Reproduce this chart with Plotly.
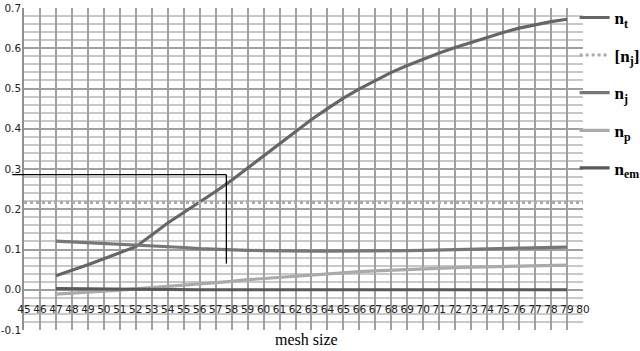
import plotly.graph_objects as go

mesh = list(range(47, 80))
n_t = [0.035, 0.048, 0.062, 0.077, 0.091, 0.107, 0.136, 0.166, 0.192, 0.217,
       0.244, 0.272, 0.302, 0.333, 0.363, 0.393, 0.423, 0.450, 0.476, 0.499,
       0.520, 0.540, 0.557, 0.573, 0.588, 0.602, 0.615, 0.628, 0.639, 0.650,
       0.659, 0.666, 0.672]
n_j = [0.121, 0.119, 0.117, 0.115, 0.114, 0.112, 0.110, 0.108, 0.105, 0.102,
       0.100, 0.099, 0.098, 0.097, 0.096, 0.096, 0.096, 0.096, 0.096, 0.096,
       0.096, 0.097, 0.097, 0.098, 0.099, 0.100, 0.101, 0.102, 0.103, 0.104,
       0.105, 0.105, 0.106]
n_p = [-0.011, -0.009, -0.007, -0.004, -0.001, 0.002, 0.005, 0.008, 0.011, 0.013,
       0.017, 0.021, 0.025, 0.028, 0.031, 0.034, 0.037, 0.040, 0.043, 0.045,
       0.047, 0.049, 0.050, 0.052, 0.053, 0.055, 0.056, 0.057, 0.058, 0.059,
       0.060, 0.061, 0.061]
n_em = [0.003, 0.0025, 0.002, 0.0015, 0.001, 0.0005] + [0.0] * 27
nj_mean_x = [45, 80]
nj_mean = [0.217, 0.217]
guide_x = 57.67
guide_y_top = 0.286
guide_y_bottom = 0.065
y_tick_vals = [-0.1, 0.0, 0.1, 0.2, 0.3, 0.4, 0.5, 0.6, 0.7]
y_tick_text = ["-0.1", "0.0", "0.1", "0.2", "0.3", "0.4", "0.5", "0.6", "0.7"]

fig = go.Figure()
fig.add_trace(go.Scatter(x=mesh, y=n_t, mode="lines", name="<b>n</b><sub><b>t</b></sub>",
                         line=dict(color="#666666", width=3.2), legendgroup="a"))
fig.add_trace(go.Scatter(x=nj_mean_x, y=nj_mean, mode="lines", name="<b>[n</b><sub><b>j</b></sub><b>]</b>",
                         line=dict(color="#aaaaaa", width=3, dash="dot"), legendgroup="b"))
fig.add_trace(go.Scatter(x=mesh, y=n_j, mode="lines", name="<b>n</b><sub><b>j</b></sub>",
                         line=dict(color="#777777", width=3.2), legendgroup="c"))
fig.add_trace(go.Scatter(x=mesh, y=n_p, mode="lines", name="<b>n</b><sub><b>p</b></sub>",
                         line=dict(color="#aaaaaa", width=3.2), legendgroup="d"))
fig.add_trace(go.Scatter(x=mesh, y=n_em, mode="lines", name="<b>n</b><sub><b>em</b></sub>",
                         line=dict(color="#5a5a5a", width=3.2), legendgroup="e"))

fig.add_shape(type="line", xref="paper", yref="y", x0=-0.021, x1=(guide_x - 45) / 35,
              y0=guide_y_top, y1=guide_y_top, line=dict(color="black", width=1.3))
fig.add_shape(type="line", xref="x", yref="y", x0=guide_x, x1=guide_x,
              y0=guide_y_top, y1=guide_y_bottom, line=dict(color="black", width=1.3))

fig.add_annotation(text="mesh size", xref="paper", yref="paper", x=0.506, y=-0.029,
                   showarrow=False, font=dict(family="Liberation Serif", size=16, color="black"),
                   yanchor="middle")

tick_font = dict(family="DejaVu Sans", size=10.5, color="#222222")

fig.update_layout(
    width=640, height=351,
    margin=dict(l=24, r=57, t=8, b=21, autoexpand=False),
    plot_bgcolor="white", paper_bgcolor="white",
    font=dict(family="DejaVu Sans", size=11, color="black"),
    legend=dict(x=0.985, y=1.025, xanchor="left", yanchor="top", bgcolor="rgba(0,0,0,0)",
                font=dict(family="Liberation Serif", size=17, color="black"),
                tracegroupgap=12.5, itemwidth=30, maxheight=340),
    showlegend=True,
)
fig.update_xaxes(range=[45, 80], dtick=1, tick0=45, anchor="free", position=0.09,
                 showgrid=True, gridcolor="#a0a0a0", gridwidth=1.5, zeroline=False,
                 showline=False, ticks="", tickangle=0, automargin=False,
                 tickfont=tick_font)
fig.update_yaxes(range=[-0.1, 0.7], tickmode="array", tickvals=y_tick_vals, ticktext=y_tick_text,
                 showgrid=True, gridcolor="#a0a0a0", gridwidth=1.5, zeroline=False,
                 showline=True, linecolor="#909090", linewidth=1.5, automargin=False,
                 ticks="", ticklabelstandoff=-1,
                 minor=dict(tickmode="linear", tick0=0, dtick=0.02, showgrid=True,
                            gridcolor="#c8c8c8", gridwidth=1.5),
                 tickfont=tick_font)

fig.write_html("out.html", post_script="document.body.style.margin='0';",
               config={"displayModeBar": False})
